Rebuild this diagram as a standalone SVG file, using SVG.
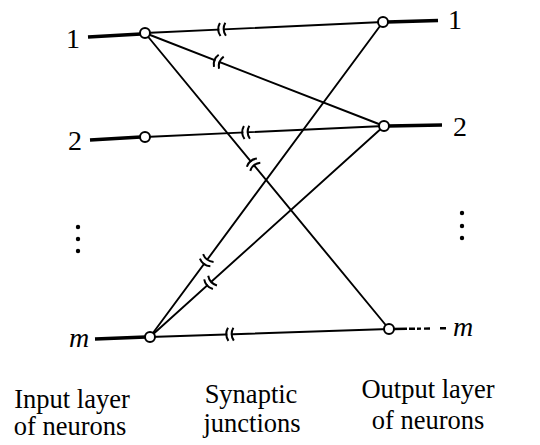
<svg xmlns="http://www.w3.org/2000/svg" width="540" height="445" viewBox="0 0 540 445">
<style>
.ln{stroke:#000;stroke-width:1.9;fill:none;stroke-linecap:round}
.lead{stroke:#000;stroke-width:3.4;fill:none}
.nd{fill:#fff;stroke:#000;stroke-width:2}
.cap{stroke:#000;stroke-width:2;fill:none}
.gap{fill:#fff;stroke:none}
.t{font-family:"Liberation Serif","Times New Roman",serif;fill:#000}
.num{font-size:28px}
.lab{font-size:26.5px;text-anchor:middle}
.dot{fill:#000}
</style>
<defs>
<g id="capsym">
<rect class="gap" x="-2.6" y="-2" width="4.4" height="4"/>
<path class="cap" d="M-1.8,-6.5 Q-5.8,0 -1.8,6.5"/>
<path class="cap" d="M3.6,-6.5 Q-0.4,0 3.6,6.5"/>
</g>
</defs>
<g id="connectors">
<line class="ln" x1="145" y1="33" x2="383" y2="22"/>
<line class="ln" x1="145" y1="33" x2="384" y2="126"/>
<line class="ln" x1="145" y1="33" x2="389" y2="329"/>
<line class="ln" x1="145" y1="137" x2="384" y2="126"/>
<line class="ln" x1="150" y1="337" x2="383" y2="22"/>
<line class="ln" x1="150" y1="337" x2="384" y2="126"/>
<line class="ln" x1="150" y1="337" x2="389" y2="329"/>
<use href="#capsym" transform="translate(222,29.4) rotate(-2.65)"/>
<use href="#capsym" transform="translate(218,61.4) rotate(21.26)"/>
<use href="#capsym" transform="translate(253,164) rotate(50.5)"/>
<use href="#capsym" transform="translate(246,132.4) rotate(-2.64)"/>
<use href="#capsym" transform="translate(206.2,261) rotate(-53.5)"/>
<use href="#capsym" transform="translate(209.9,283) rotate(-42.04)"/>
<use href="#capsym" transform="translate(230,334.3) rotate(-1.92)"/>
</g>
<g id="in1">
<path class="lead" d="M88,37 L141,34"/>
<circle class="nd" cx="145" cy="33" r="5"/>
<text class="t num" x="66" y="48">1</text>
</g>
<g id="in2">
<path class="lead" d="M90,140 L141,137"/>
<circle class="nd" cx="145" cy="137" r="5"/>
<text class="t num" x="68" y="150">2</text>
</g>
<g id="inm">
<path class="lead" d="M95,339 L146,337"/>
<circle class="nd" cx="150" cy="337" r="5"/>
<text class="t num" x="69" y="347" font-style="italic">m</text>
</g>
<g id="indots">
<circle class="dot" cx="78" cy="227" r="2.2"/>
<circle class="dot" cx="78" cy="239" r="2.2"/>
<circle class="dot" cx="78" cy="251" r="2.2"/>
</g>
<g id="out1">
<path class="lead" d="M387,22 L438,20.5"/>
<circle class="nd" cx="383" cy="22" r="5"/>
<text class="t num" x="448" y="29">1</text>
</g>
<g id="out2">
<path class="lead" d="M388,126 L442,125"/>
<circle class="nd" cx="384" cy="126" r="5"/>
<text class="t num" x="453" y="136">2</text>
</g>
<g id="outm">
<path d="M393,329 L430,328.5" stroke="#000" stroke-width="2.4" stroke-dasharray="14,2,6,2,4,3" fill="none"/>
<path d="M440,328.3 L446,328.2" stroke="#000" stroke-width="2.4" fill="none"/>
<circle class="nd" cx="389" cy="329" r="5"/>
<text class="t num" x="453" y="336" font-style="italic">m</text>
</g>
<g id="outdots">
<circle class="dot" cx="462" cy="213" r="2.2"/>
<circle class="dot" cx="462" cy="226" r="2.2"/>
<circle class="dot" cx="462" cy="238" r="2.2"/>
</g>
<g id="labels">
<text class="t lab" x="72" y="408">Input layer</text>
<text class="t lab" x="70" y="435">of neurons</text>
<text class="t lab" x="251" y="403">Synaptic</text>
<text class="t lab" x="252" y="432">junctions</text>
<text class="t lab" x="428" y="398">Output layer</text>
<text class="t lab" x="428" y="429">of neurons</text>
</g>
</svg>
